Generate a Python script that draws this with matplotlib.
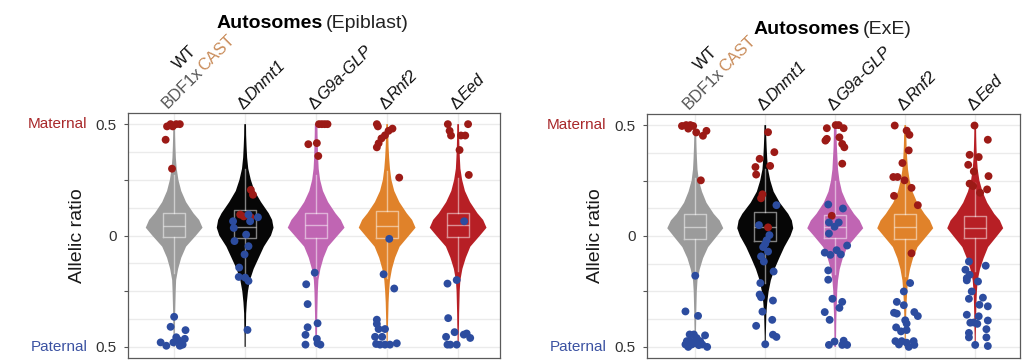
import numpy as np
import matplotlib
matplotlib.use("Agg")
import matplotlib.pyplot as plt
from matplotlib.font_manager import FontProperties
from matplotlib.textpath import TextPath

plt.rcParams['font.family'] = ['Liberation Sans', 'DejaVu Sans']

# --- data ----------------------------------------------------------------
genotypes = ['WT', 'Dnmt1', 'G9a-GLP', 'Rnf2', 'Eed']
violin_colors = ['#9b9b9b', '#060606', '#c065b3', '#e0822a', '#b71f25']

# density profiles (relative width) on a shared grid of allelic ratios
violin_y = [-0.5, -0.45, -0.4, -0.35, -0.3, -0.25, -0.2, -0.15, -0.1, -0.05, 0.0,
            0.035, 0.07, 0.1, 0.15, 0.2, 0.25, 0.3, 0.35, 0.4, 0.45, 0.5]
epi_density = [
    [0.02, 0.02, 0.03, 0.035, 0.045, 0.055, 0.07, 0.14, 0.25, 0.42, 0.77, 1.0, 0.88, 0.68, 0.42, 0.25, 0.15, 0.09, 0.06, 0.045, 0.035, 0.03],
    [0.02, 0.02, 0.03, 0.035, 0.06, 0.1, 0.17, 0.3, 0.48, 0.66, 0.91, 1.0, 0.95, 0.83, 0.56, 0.33, 0.2, 0.11, 0.07, 0.05, 0.035, 0.03],
    [0.03, 0.03, 0.035, 0.04, 0.05, 0.06, 0.08, 0.15, 0.26, 0.42, 0.76, 1.0, 0.87, 0.68, 0.42, 0.24, 0.14, 0.09, 0.07, 0.06, 0.05, 0.045],
    [0.02, 0.02, 0.03, 0.04, 0.05, 0.07, 0.1, 0.17, 0.28, 0.44, 0.77, 1.0, 0.88, 0.69, 0.43, 0.25, 0.15, 0.1, 0.07, 0.05, 0.04, 0.03],
    [0.02, 0.02, 0.03, 0.035, 0.045, 0.055, 0.08, 0.15, 0.27, 0.43, 0.77, 1.0, 0.88, 0.68, 0.42, 0.24, 0.14, 0.08, 0.06, 0.045, 0.035, 0.03],
]
exe_density = [
    [0.02, 0.02, 0.03, 0.035, 0.045, 0.055, 0.08, 0.16, 0.28, 0.46, 0.78, 1.0, 0.87, 0.66, 0.4, 0.24, 0.13, 0.08, 0.06, 0.045, 0.035, 0.03],
    [0.02, 0.02, 0.03, 0.04, 0.07, 0.12, 0.2, 0.33, 0.5, 0.68, 0.9, 1.0, 0.95, 0.82, 0.52, 0.3, 0.18, 0.1, 0.07, 0.05, 0.035, 0.03],
    [0.03, 0.03, 0.035, 0.045, 0.06, 0.07, 0.1, 0.16, 0.27, 0.43, 0.76, 1.0, 0.87, 0.67, 0.41, 0.24, 0.15, 0.1, 0.08, 0.06, 0.05, 0.045],
    [0.02, 0.02, 0.03, 0.035, 0.05, 0.07, 0.1, 0.17, 0.28, 0.44, 0.77, 1.0, 0.88, 0.69, 0.43, 0.26, 0.16, 0.1, 0.07, 0.05, 0.04, 0.03],
    [0.02, 0.02, 0.03, 0.035, 0.045, 0.06, 0.09, 0.17, 0.3, 0.46, 0.78, 1.0, 0.88, 0.68, 0.43, 0.26, 0.15, 0.09, 0.06, 0.045, 0.035, 0.03],
]

# box plot statistics
epi_q1 = [-0.007, -0.013, -0.01, -0.012, -0.005]
epi_med = [0.042, 0.04, 0.045, 0.043, 0.045]
epi_q3 = [0.103, 0.113, 0.103, 0.108, 0.100]
epi_whislo = [-0.17, -0.2, -0.18, -0.19, -0.16]
epi_whishi = [0.27, 0.3, 0.27, 0.29, 0.26]
exe_q1 = [-0.013, -0.022, -0.01, -0.012, -0.01]
exe_med = [0.042, 0.039, 0.04, 0.04, 0.034]
exe_q3 = [0.097, 0.106, 0.094, 0.097, 0.09]
exe_whislo = [-0.18, -0.21, -0.17, -0.18, -0.16]
exe_whishi = [0.26, 0.3, 0.25, 0.26, 0.24]

# individual genes with maternal / paternal bias (value + horizontal jitter)
epi_mat_y = [
    [0.49, 0.5, 0.49, 0.5, 0.5, 0.43, 0.30],
    [0.205, 0.183, 0.094, 0.086, 0.082],
    [0.5, 0.5, 0.5, 0.5, 0.41, 0.415, 0.357],
    [0.5, 0.49, 0.48, 0.47, 0.45, 0.436, 0.414, 0.396, 0.26],
    [0.5, 0.47, 0.449, 0.449, 0.449, 0.5, 0.384, 0.272],
]
epi_mat_jit = [
    [-0.1, -0.05, -0.02, 0.03, 0.08, -0.12, -0.03],
    [0.08, 0.11, -0.07, -0.02, 0.08],
    [0.04, 0.08, 0.12, 0.16, -0.11, 0.01, 0.03],
    [-0.145, -0.13, 0.075, 0.02, -0.03, -0.08, -0.12, -0.145, 0.17],
    [-0.145, -0.12, -0.1, 0.04, 0.1, 0.14, 0.02, 0.15],
]
epi_pat_y = [
    [-0.365, -0.41, -0.425, -0.48, -0.495, -0.457, -0.48, -0.464, -0.495, -0.48, -0.49, -0.47],
    [0.064, 0.034, 0.094, 0.064, 0.082, 0.004, -0.025, -0.048, -0.085, -0.144, -0.186, -0.189, -0.204, -0.424],
    [-0.167, -0.219, -0.308, -0.412, -0.394, -0.446, -0.464, -0.49, -0.49, -0.484],
    [-0.015, -0.174, -0.238, -0.378, -0.397, -0.42, -0.42, -0.455, -0.455, -0.487, -0.49, -0.49, -0.49, -0.484],
    [0.064, -0.2, -0.216, -0.371, -0.434, -0.455, -0.44, -0.46, -0.445, -0.49, -0.49, -0.49],
]
epi_pat_jit = [
    [0.0, -0.05, 0.16, -0.19, -0.11, 0.03, 0.10, 0.15, 0.08, -0.01, 0.12, 0.06],
    [-0.17, -0.16, 0.047, 0.07, 0.18, 0.014, -0.15, 0.047, -0.008, -0.084, -0.09, 0.0, 0.047, 0.033],
    [-0.02, -0.14, -0.12, -0.12, 0.02, -0.15, 0.01, -0.15, 0.06, 0.02],
    [0.03, -0.05, 0.1, -0.145, -0.145, -0.12, -0.03, -0.17, -0.07, -0.155, -0.1, -0.03, 0.04, 0.136],
    [0.085, -0.02, -0.15, -0.14, -0.05, -0.17, 0.12, 0.17, 0.08, -0.15, -0.11, -0.02],
]
exe_mat_y = [
    [0.496, 0.5, 0.5, 0.484, 0.496, 0.467, 0.452, 0.474, 0.251],
    [0.468, 0.378, 0.348, 0.311, 0.277, 0.316, 0.188, 0.17, 0.039],
    [0.486, 0.5, 0.5, 0.486, 0.438, 0.43, 0.445, 0.415, 0.40, 0.326, 0.091],
    [0.498, 0.475, 0.456, 0.386, 0.329, 0.266, 0.266, 0.251, 0.217, 0.181, 0.139, -0.078],
    [0.498, 0.434, 0.366, 0.356, 0.321, 0.291, 0.27, 0.236, 0.225, 0.21, 0.195],
]
exe_mat_jit = [
    [-0.19, -0.13, -0.07, -0.10, -0.03, 0.014, 0.11, 0.16, 0.08],
    [0.04, 0.13, -0.08, -0.14, -0.13, 0.07, -0.04, -0.06, 0.04],
    [-0.12, 0.007, 0.05, 0.12, -0.12, -0.14, 0.06, 0.10, 0.13, 0.10, -0.05],
    [-0.15, 0.02, 0.06, 0.05, -0.04, -0.17, -0.11, -0.01, 0.09, -0.16, 0.18, 0.09],
    [-0.01, 0.18, -0.08, 0.05, -0.10, -0.02, 0.19, -0.08, -0.03, 0.17, 0.07],
]
exe_pat_y = [
    [-0.179, -0.34, -0.36, -0.444, -0.444, -0.448, -0.474, -0.489, -0.5, -0.489, -0.482, -0.492, -0.489, -0.5, -0.46, -0.474, -0.474],
    [0.139, 0.049, 0.004, -0.019, -0.035, -0.07, -0.092, -0.115, -0.16, -0.212, -0.264, -0.276, -0.291, -0.341, -0.378, -0.405, -0.445, -0.455, -0.488, -0.05],
    [0.142, 0.124, 0.061, 0.061, 0.042, 0.011, -0.075, -0.085, -0.064, -0.083, -0.043, -0.155, -0.197, -0.283, -0.297, -0.324, -0.343, -0.378, -0.491, -0.476, -0.472, -0.491, -0.491],
    [-0.212, -0.25, -0.297, -0.312, -0.346, -0.35, -0.343, -0.361, -0.38, -0.395, -0.412, -0.43, -0.424, -0.474, -0.474, -0.481, -0.474, -0.489, -0.491, -0.5],
    [-0.115, -0.134, -0.152, -0.175, -0.19, -0.205, -0.2, -0.25, -0.278, -0.283, -0.31, -0.317, -0.355, -0.362, -0.381, -0.391, -0.396, -0.39, -0.42, -0.437, -0.457, -0.457, -0.491, -0.496],
]
exe_pat_jit = [
    [0.0, -0.14, 0.04, -0.08, -0.02, 0.14, -0.12, -0.14, -0.10, -0.05, 0.0, 0.05, 0.10, 0.17, 0.02, 0.07, -0.07],
    [0.16, -0.09, 0.06, 0.02, 0.0, 0.04, -0.06, -0.02, 0.12, -0.07, -0.08, -0.06, 0.11, -0.04, 0.10, -0.13, 0.11, 0.16, 0.0, -0.03],
    [-0.10, 0.11, -0.09, 0.05, -0.01, -0.09, -0.15, -0.07, 0.02, 0.08, 0.17, -0.10, -0.10, -0.04, 0.10, 0.06, -0.15, -0.08, -0.09, -0.01, 0.12, 0.17, 0.10],
    [0.07, -0.02, -0.12, -0.02, -0.16, -0.12, 0.13, 0.18, 0.0, 0.02, -0.13, -0.06, 0.02, -0.14, -0.05, 0.02, 0.12, -0.09, 0.13, 0.05],
    [-0.09, 0.15, -0.14, -0.08, -0.12, 0.04, -0.12, -0.05, 0.11, -0.09, 0.06, 0.18, -0.12, 0.05, 0.18, -0.07, 0.03, -0.02, 0.16, -0.09, -0.09, 0.16, 0.0, 0.18],
]

mat_color = '#9c1a16'
pat_color = '#2c4c9f'
pos = np.arange(1, 6)


def text_end(s, fp):
    return TextPath((0, 0), s, prop=fp).get_extents().x1


def rot_label(ax, x, parts, start, size=12, angle=45):
    # draws coloured / italic pieces one after another along a rotated baseline
    ca, sa = np.cos(np.radians(angle)), np.sin(np.radians(angle))
    adv = 0.0
    for s, color, style in parts:
        fp = FontProperties(family='Liberation Sans', style=style, size=size)
        ax.annotate(s, xy=(x, 1), xycoords=('data', 'axes fraction'),
                    xytext=(start[0] + adv * ca, start[1] + adv * sa),
                    textcoords='offset points', rotation=angle,
                    rotation_mode='anchor', ha='left', va='baseline',
                    fontproperties=fp, color=color, annotation_clip=False)
        adv += text_end(s, fp) + 0.7
    return adv


def panel(ax, density, q1, med, q3, wlo, whi, mat_y, mat_jit, pat_y, pat_jit, xlim):
    stats = [dict(coords=np.array(violin_y), vals=np.array(d), mean=0.0, median=0.0,
                  min=violin_y[0], max=violin_y[-1]) for d in density]
    parts = ax.violin(stats, positions=pos, widths=0.8, showextrema=False)
    for body, c in zip(parts['bodies'], violin_colors):
        body.set_facecolor(c)
        body.set_edgecolor('none')
        body.set_alpha(1)
        body.set_zorder(2)

    bstats = [dict(q1=a, med=b, q3=c, whislo=d, whishi=e)
              for a, b, c, d, e in zip(q1, med, q3, wlo, whi)]
    lp = dict(color='white', alpha=0.5, lw=1.0)
    ax.bxp(bstats, positions=pos, widths=0.31, showcaps=False, showfliers=False,
           boxprops=lp, whiskerprops=lp, medianprops=lp, manage_ticks=False, zorder=3)

    for i in range(5):
        ax.scatter(pos[i] + np.array(mat_jit[i]), mat_y[i], s=32, color=mat_color,
                   edgecolors='none', zorder=4)
        ax.scatter(pos[i] + np.array(pat_jit[i]), pat_y[i], s=32, color=pat_color,
                   edgecolors='none', zorder=4)

    ax.set_xlim(*xlim)
    ax.set_ylim(-0.55, 0.55)
    ax.set_yticks([-0.5, -0.25, 0, 0.25, 0.5])
    ax.set_yticklabels(['0.5', '', '0', '', '0.5'])
    ax.set_yticks([-0.375, -0.125, 0.125, 0.375], minor=True)
    ax.set_xticks(pos)
    ax.set_xticklabels([])
    ax.tick_params(axis='x', length=0)
    ax.tick_params(axis='y', which='major', length=3, width=0.8, color='#555555',
                   labelsize=11, labelcolor='#333333', pad=5)
    ax.tick_params(axis='y', which='minor', length=0)
    ax.grid(axis='y', which='both', color='#ebebeb', lw=1.0, zorder=0)
    ax.grid(axis='x', which='major', color='#ebebeb', lw=1.0, zorder=0)
    ax.set_axisbelow(True)
    for sp in ax.spines.values():
        sp.set_color('#5a5a5a')
        sp.set_linewidth(0.9)

    ax.annotate('Maternal', xy=(0, 0.5), xycoords=('axes fraction', 'data'),
                xytext=(-29, 0), textcoords='offset points', ha='right', va='center',
                fontsize=11, color='#a8282a', annotation_clip=False)
    ax.annotate('Paternal', xy=(0, -0.5), xycoords=('axes fraction', 'data'),
                xytext=(-29, 0), textcoords='offset points', ha='right', va='center',
                fontsize=11, color='#3b52a2', annotation_clip=False)
    ax.text(-0.137, 0.5, 'Allelic ratio', transform=ax.transAxes, rotation=90,
            ha='center', va='center', fontsize=14, color='#1a1a1a')

    # category labels
    fp12 = FontProperties(family='Liberation Sans', size=12)
    start2 = (-5.0, 3.0)
    w2 = rot_label(ax, pos[0], [('BDF1x', '#555555', 'normal'), ('CAST', '#c98c5a', 'normal')], start2)
    wwt = text_end('WT', fp12)
    lh = 13.8
    ca = sa = np.sqrt(0.5)
    along = (w2 - wwt) / 2
    rot_label(ax, pos[0], [('WT', '#111111', 'normal')],
              (start2[0] - lh * sa + along * ca, start2[1] + lh * ca + along * sa))
    for i, g in enumerate(genotypes[1:], start=1):
        rot_label(ax, pos[i], [('Δ', '#111111', 'normal'), (g, '#111111', 'italic')], (-1.0, 2.5))


def title(fig, cx, base_y, bold, rest):
    fb = FontProperties(family='Liberation Sans', weight='bold', size=14)
    fn = FontProperties(family='Liberation Sans', size=14)
    wb = text_end(bold + ' ', fb) * 100 / 72
    wn = text_end(rest, fn) * 100 / 72
    x0 = cx - (wb + wn) / 2
    W, H = fig.get_size_inches() * fig.dpi
    fig.text(x0 / W, 1 - base_y / H, bold, fontproperties=fb, ha='left', va='baseline')
    fig.text((x0 + wb + 4) / W, 1 - base_y / H, rest, fontproperties=fn, ha='left',
             va='baseline', color='#222222')


fig = plt.figure(figsize=(10.24, 3.64), dpi=100)
ax1 = fig.add_axes([0.125, 0.0165, 0.3633, 0.673])
ax2 = fig.add_axes([0.6318, 0.0165, 0.3643, 0.6703])

panel(ax1, epi_density, epi_q1, epi_med, epi_q3, epi_whislo, epi_whishi,
      epi_mat_y, epi_mat_jit, epi_pat_y, epi_pat_jit, (0.35, 5.59))
panel(ax2, exe_density, exe_q1, exe_med, exe_q3, exe_whislo, exe_whishi,
      exe_mat_y, exe_mat_jit, exe_pat_y, exe_pat_jit, (0.31, 5.64))

title(fig, 310, 28, 'Autosomes', '(Epiblast)')
title(fig, 830, 34, 'Autosomes', '(ExE)')

fig.savefig('out.png', dpi=100, facecolor='white')
